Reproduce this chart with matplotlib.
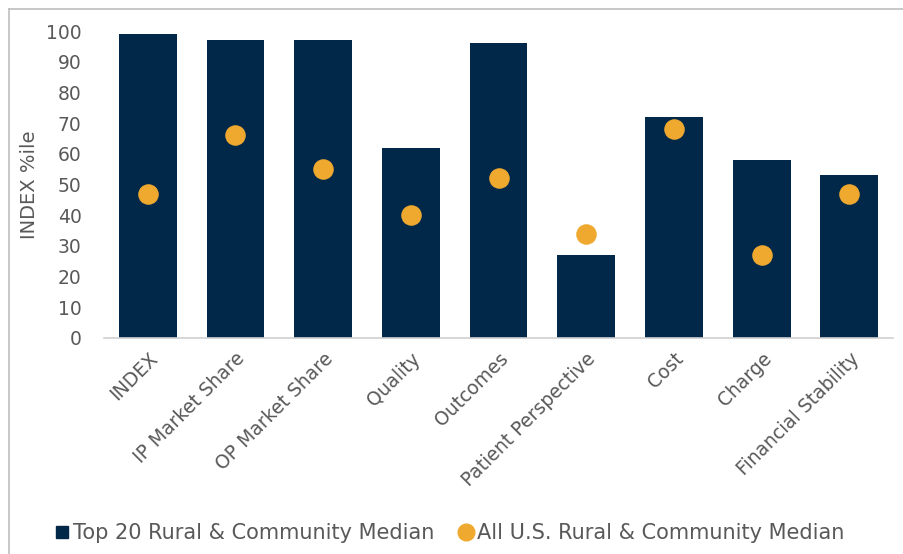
import numpy as np
import matplotlib.pyplot as plt
from matplotlib.lines import Line2D

# values
categories = ['INDEX', 'IP Market Share', 'OP Market Share', 'Quality', 'Outcomes',
              'Patient Perspective', 'Cost', 'Charge', 'Financial Stability']
top20 = [99, 97, 97, 62, 96, 27, 72, 58, 53]
all_us = [47, 66, 55, 40, 52, 34, 68, 27, 47]
yticks = list(range(0, 101, 10))

navy = '#022849'
orange = '#EFA92F'
gray_txt = '#595959'

fig = plt.figure(figsize=(9.04, 5.54), dpi=100)
ax = fig.add_axes([0.115, 0.39, 0.873, 0.554])

x = np.arange(len(categories))
ax.bar(x, top20, width=0.66, color=navy, zorder=2)
ax.scatter(x, all_us, s=190, color=orange, zorder=3)

ax.set_xlim(-0.5, len(categories) - 0.5)
ax.set_ylim(0, 100)
ax.set_yticks(yticks)
ax.set_xticks(x)
ax.set_xticklabels(categories, rotation=45, ha='right', rotation_mode='anchor')
ax.tick_params(axis='both', length=0, labelsize=13.5, colors=gray_txt)
ax.tick_params(axis='y', pad=16)
ax.tick_params(axis='x', pad=8)
for s in ['top', 'right', 'left']:
    ax.spines[s].set_visible(False)
ax.spines['bottom'].set_color('#D0D0D0')
ax.spines['bottom'].set_linewidth(1.2)
ax.set_ylabel('INDEX %ile', fontsize=14, color=gray_txt, labelpad=5)

# legend
handles = [Line2D([], [], marker='s', linestyle='', color=navy, markersize=8),
           Line2D([], [], marker='o', linestyle='', color=orange, markersize=12)]
fig.legend(handles, ['Top 20 Rural & Community Median', 'All U.S. Rural & Community Median'],
           loc='lower left', bbox_to_anchor=(0.036, -0.014), ncol=2, frameon=False,
           fontsize=15, labelcolor=gray_txt, handletextpad=0.05, columnspacing=1.0,
           handlelength=1.0)

# outer frame (cropped)
fig.add_artist(Line2D([0.01, 0.01], [0, 0.984], color='#BFBFBF', lw=1.2, transform=fig.transFigure))
fig.add_artist(Line2D([0.01, 1], [0.984, 0.984], color='#BFBFBF', lw=1.2, transform=fig.transFigure))

fig.savefig('out.png', dpi=100)
